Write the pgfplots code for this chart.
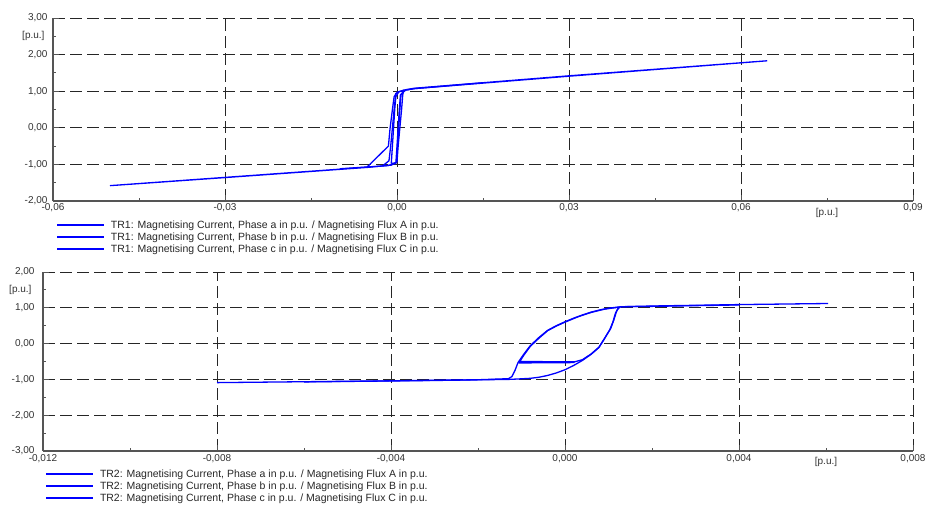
\documentclass[border=0pt]{standalone}
\usepackage{pgfplots}
\pgfplotsset{compat=1.18}
\usepackage{fontspec}
\setmainfont{Liberation Sans}
\definecolor{curve}{RGB}{0,0,255}
\definecolor{axgray}{RGB}{85,85,85}
\definecolor{txt}{RGB}{50,50,50}
\pgfplotsset{
  magline/.style={draw=curve, line width=1.3pt, line join=round, mark=none},
  magstyle/.style={
    scale only axis,
    anchor=south west,
    axis x line=bottom, axis y line=left,
    axis line style={-, axgray, line width=1.2pt},
    grid=major,
    major grid style={black!85, dash pattern=on 12pt off 5pt, line width=0.8pt},
    tick style={axgray, line width=0.9pt},
    tick align=inside,
    major tick length=6pt, minor tick length=3pt,
    minor tick num=1,
    scaled x ticks=false, scaled y ticks=false,
    tick label style={font=\fontsize{10}{12}\selectfont, text=txt},
    clip=false,
    legend cell align=left,
    legend image code/.code={\draw[curve, line width=1.8pt] (0pt,3.5pt) -- (47pt,3.5pt);},
    legend style={draw=none, fill=none, at={(0,0)}, anchor=north west,
      font=\fontsize{10.5}{12}\selectfont, row sep=1pt, column sep=6pt,
      nodes={inner sep=0pt, text height=8pt, text depth=3pt, anchor=base west}},
  }
}
\begin{document}
\begin{tikzpicture}[x=1pt,y=1pt]
\useasboundingbox (0,0) rectangle (932,505);
% ---------------- TR1 ----------------
\begin{axis}[magstyle,
  at={(53pt,304pt)}, width=860pt, height=183pt,
  xmin=-0.06, xmax=0.09, ymin=-2, ymax=3,
  xtick={-0.06,-0.03,0,0.03,0.06,0.09},
  xticklabels={{-0,06},{-0,03},{0,00},{0,03},{0,06},{0,09}},
  ytick={-2,-1,0,1,2,3},
  yticklabels={{-2,00},{-1,00},{0,00},{1,00},{2,00},{3,00}},
  xticklabel style={yshift=1pt},
  yticklabel style={xshift=-2pt},
  legend style={yshift=-17pt, xshift=0pt, text=black!85},
]
\addplot[magline] coordinates {
(-0.0010,-0.98) (-0.0008,-0.5) (-0.0006,0) (-0.0004,0.5) (-0.0002,0.85)
(0.0003,0.98) (0.0015,1.04) (0.0030,1.08) (0.0300,1.42) (0.0645,1.83)
(0.0300,1.41) (0.0030,1.07) (0.0012,1.02) (0.0007,0.9) (0.0005,0.5)
(0.0003,0) (0.0001,-0.5) (-0.0001,-0.95) (-0.0010,-0.98)
};
\addlegendentry{TR1: Magnetising Current, Phase a in p.u. / Magnetising Flux A in p.u.}
\addplot[magline] coordinates {
(-0.0002,0.95) (-0.0005,0.5) (-0.0008,0) (-0.0011,-0.5) (-0.0014,-0.9)
(-0.0025,-1.04) (-0.0050,-1.08) (-0.0300,-1.36) (-0.0500,-1.58)
(-0.0300,-1.355) (-0.0050,-1.075) (-0.0015,-1.03) (-0.0002,-0.97)
(0.0000,-0.5) (0.0002,0) (0.0004,0.5) (0.0006,0.9) (0.0015,1.03)
(0.0030,1.07) (0.0150,1.23)
};
\addlegendentry{TR1: Magnetising Current, Phase b in p.u. / Magnetising Flux B in p.u.}
\addplot[magline] coordinates {
(-0.0052,-1.07) (-0.0015,-0.5) (-0.0012,0) (-0.0008,0.5) (-0.0005,0.85)
(0.0000,0.97) (0.0012,1.03) (0.0010,0.9) (0.0008,0.5) (0.0005,0)
(0.0002,-0.5) (0.0000,-0.93) (-0.0010,-1.02) (-0.0030,-1.05)
(-0.0052,-1.07) (-0.0100,-1.12)
};
\addlegendentry{TR1: Magnetising Current, Phase c in p.u. / Magnetising Flux C in p.u.}
\node[anchor=north, font=\fontsize{10}{12}\selectfont, text=txt, yshift=-4pt] at (axis cs:0.075,-2) {[p.u.]};
\node[anchor=east, font=\fontsize{10}{12}\selectfont, text=txt, xshift=-5pt] at (axis cs:-0.06,2.5) {[p.u.]};
\end{axis}
% ---------------- TR2 ----------------
\begin{axis}[magstyle,
  at={(43pt,54pt)}, width=870pt, height=179pt,
  xmin=-0.012, xmax=0.008, ymin=-3, ymax=2,
  xtick={-0.012,-0.008,-0.004,0,0.004,0.008},
  xticklabels={{-0,012},{-0,008},{-0,004},{0,000},{0,004},{0,008}},
  ytick={-3,-2,-1,0,1,2},
  yticklabels={{-3,00},{-2,00},{-1,00},{0,00},{1,00},{2,00}},
  xticklabel style={yshift=0pt},
  yticklabel style={xshift=-5pt},
  legend style={yshift=-16pt, xshift=-1pt, text=black!85},
]
\addplot[magline] coordinates {
(-0.0080,-1.09) (-0.0040,-1.04) (-0.0020,-1.01) (-0.0013,-0.98)
(-0.00122,-0.92) (-0.00115,-0.75) (-0.00108,-0.53) (-0.00095,-0.30)
(-0.00080,-0.06) (-0.00060,0.17) (-0.00040,0.37) (-0.00020,0.50)
(0.00000,0.61) (0.00020,0.71) (0.00040,0.80) (0.00060,0.88)
(0.00080,0.94) (0.00100,0.99) (0.00130,1.03) (0.00200,1.05)
(0.00400,1.09) (0.00605,1.12)
};
\addlegendentry{TR2: Magnetising Current, Phase a in p.u. / Magnetising Flux A in p.u.}
\addplot[magline] coordinates {
(0.00400,1.08) (0.00200,1.04) (0.00128,1.03) (0.00122,0.98) (0.00116,0.85)
(0.00110,0.60) (0.00103,0.39) (0.00090,0.12) (0.00078,-0.11)
(0.00060,-0.30) (0.00040,-0.47) (0.00020,-0.61) (0.00000,-0.73)
(-0.00020,-0.82) (-0.00040,-0.89) (-0.00060,-0.94) (-0.00080,-0.97)
(-0.00110,-0.99) (-0.00130,-1.0) (-0.00300,-1.03) (-0.00600,-1.07)
};
\addlegendentry{TR2: Magnetising Current, Phase b in p.u. / Magnetising Flux B in p.u.}
\addplot[magline] coordinates {
(0.00022,-0.53) (-0.00106,-0.54) (-0.00095,-0.33) (-0.00080,-0.08)
(-0.00060,0.15) (-0.00040,0.36) (-0.00020,0.49) (0.00000,0.60)
(0.00030,0.75) (0.00060,0.87) (0.00090,0.96) (0.00125,1.02)
(0.00119,0.92) (0.00112,0.65) (0.00105,0.42) (0.00090,0.13)
(0.00078,-0.10) (0.00060,-0.29) (0.00040,-0.45) (0.00022,-0.51)
(-0.00105,-0.50)
};
\addlegendentry{TR2: Magnetising Current, Phase c in p.u. / Magnetising Flux C in p.u.}
\node[anchor=north, font=\fontsize{10}{12}\selectfont, text=txt, yshift=-3pt] at (axis cs:0.006,-3) {[p.u.]};
\node[anchor=east, font=\fontsize{10}{12}\selectfont, text=txt, xshift=-8pt] at (axis cs:-0.012,1.5) {[p.u.]};
\end{axis}
\end{tikzpicture}
\end{document}
